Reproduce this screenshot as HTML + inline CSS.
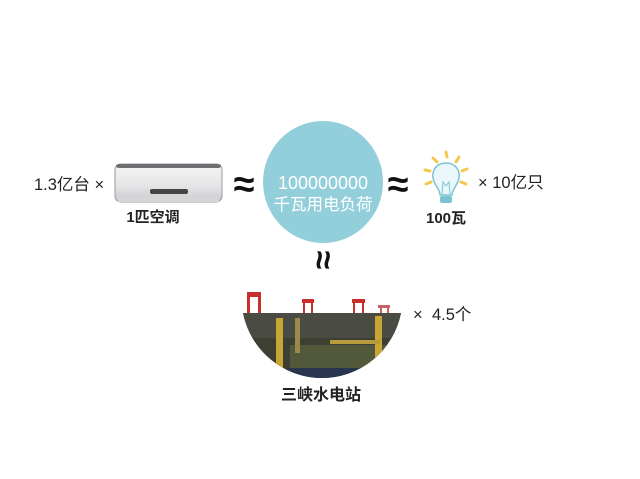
<!DOCTYPE html>
<html><head><meta charset="utf-8"><style>
html,body{margin:0;padding:0;background:#fff;}
svg{display:block}
text{font-family:"Liberation Sans","Noto Sans CJK SC",sans-serif;}
</style></head><body>
<svg width="640" height="479" viewBox="0 0 640 479" xmlns="http://www.w3.org/2000/svg">
<defs>
<linearGradient id="ac" x1="0" y1="0" x2="0" y2="1">
<stop offset="0" stop-color="#f6f6f6"/><stop offset="0.6" stop-color="#e4e4e6"/><stop offset="1" stop-color="#c8c8cc"/>
</linearGradient>
<clipPath id="dam"><path d="M243 313 L401 313 A80.5 80.5 0 0 1 243 313 Z"/></clipPath>
</defs>
<rect width="640" height="479" fill="#fff"/>
<!-- left -->
<text x="34" y="190" font-size="16.5" fill="#222">1.3亿台 ×</text>
<rect x="115" y="164" width="107" height="38" rx="6" fill="url(#ac)" stroke="#9a9a9e" stroke-width="1"/>
<rect x="116" y="164" width="105" height="4" rx="3" fill="#6d6d72"/>
<rect x="118" y="195" width="101" height="7" fill="#d5d5d8"/>
<rect x="150" y="189" width="38" height="5" rx="2" fill="#444"/>
<text x="153" y="222" font-size="15" fill="#222" text-anchor="middle" font-weight="bold">1匹空调</text>
<text x="244" y="197" font-size="38" fill="#111" text-anchor="middle" font-weight="bold">≈</text>
<!-- circle -->
<ellipse cx="323" cy="182" rx="60" ry="61" fill="#93cfdb"/>
<text x="323" y="189" font-size="18" fill="#fff" text-anchor="middle">100000000</text>
<text x="323" y="210" font-size="16.5" fill="#fff" text-anchor="middle">千瓦用电负荷</text>
<text x="398" y="197" font-size="38" fill="#111" text-anchor="middle" font-weight="bold">≈</text>
<!-- bulb -->
<g stroke="#f2c94c" stroke-width="3" stroke-linecap="round">
<line x1="446" y1="152" x2="447" y2="157"/><line x1="433" y1="158" x2="437" y2="162"/><line x1="459" y1="157" x2="456" y2="162"/>
<line x1="425" y1="170" x2="430" y2="171"/><line x1="467" y1="169" x2="462" y2="171"/>
<line x1="426" y1="184" x2="431" y2="182"/><line x1="466" y1="184" x2="461" y2="182"/>
</g>
<path d="M446 163 C435 163 432 172 433 178 C434 185 440 189 440 195 L452 195 C452 189 458 185 459 178 C460 172 457 163 446 163 Z" fill="#eaf6fa" stroke="#7ac4d4" stroke-width="1.5"/>
<path d="M442 194 L443 182 L446 186 L449 182 L450 194" fill="none" stroke="#7ac4d4" stroke-width="1"/>
<rect x="440" y="196" width="12" height="7" rx="2" fill="#7ac4d4"/>
<text x="478" y="188" font-size="16.5" fill="#222">× 10亿只</text>
<text x="446" y="223" font-size="15" fill="#222" text-anchor="middle" font-weight="bold">100瓦</text>
<!-- vertical approx -->
<text x="323" y="271" font-size="34" fill="#111" text-anchor="middle" font-weight="bold" transform="rotate(90 323 260)">≈</text>
<!-- dam -->
<g clip-path="url(#dam)">
<rect x="240" y="313" width="165" height="70" fill="#3d3f33"/>
<rect x="240" y="313" width="165" height="25" fill="#4a4c44"/>
<rect x="290" y="345" width="100" height="30" fill="#52583a"/>
<rect x="276" y="318" width="7" height="60" fill="#c9a533"/>
<rect x="375" y="316" width="7" height="55" fill="#c9a533"/>
<rect x="330" y="340" width="50" height="4" fill="#b89b3a"/>
<rect x="295" y="318" width="5" height="35" fill="#9a8a4a"/>
<rect x="285" y="368" width="100" height="10" fill="#2a3550"/>
</g>
<g fill="#c8302c">
<rect x="247" y="292" width="14" height="5"/><rect x="247" y="297" width="3" height="16"/><rect x="258" y="297" width="3" height="16"/>
<rect x="302" y="299" width="12" height="4"/><rect x="303" y="303" width="2" height="10"/><rect x="311" y="303" width="2" height="10"/>
<rect x="352" y="299" width="13" height="4"/><rect x="353" y="303" width="2" height="10"/><rect x="362" y="303" width="2" height="10"/>
<rect x="378" y="305" width="12" height="3" fill="#c86060"/><rect x="380" y="308" width="2" height="5" fill="#c86060"/><rect x="387" y="308" width="2" height="5" fill="#c86060"/>
</g>
<text x="413" y="320" font-size="16.5" fill="#222">×</text>
<text x="432" y="320" font-size="16.5" fill="#222">4.5个</text>
<text x="321" y="400" font-size="16" fill="#222" text-anchor="middle" font-weight="bold">三峡水电站</text>
</svg>
</body></html>
